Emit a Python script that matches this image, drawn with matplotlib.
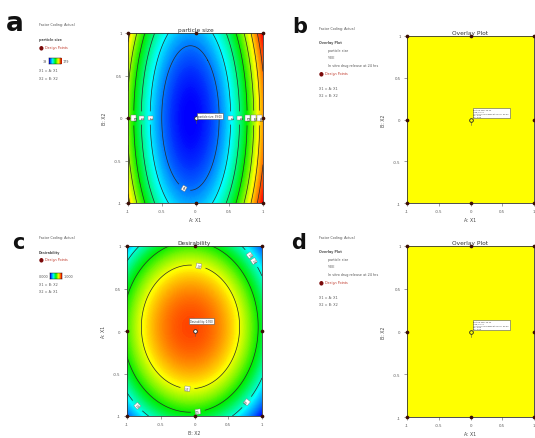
import numpy as np
import matplotlib
matplotlib.use("Agg")
import matplotlib.pyplot as plt
from matplotlib.colors import LinearSegmentedColormap

W, H = 535, 439
fig = plt.figure(figsize=(W / 100, H / 100), dpi=100)
fig.patch.set_facecolor("white")

# ---- data -------------------------------------------------------------
tick_values = [-1, -0.5, 0, 0.5, 1]
tick_labels = ["-1", "-0.5", "0", "0.5", "1"]

# 3x3 factorial design in coded units
design_x1 = [-1, -1, -1, 0, 0, 1, 1, 1]
design_x2 = [-1, 0, 1, -1, 1, -1, 0, 1]
center_point = [0, 0]

# particle size: quadratic model in coded X1, X2
ps_b0, ps_a, ps_aa, ps_bb = 39.0, 15.0, 100.0, 25.0
ps_min, ps_max = 39, 179
ps_n_div = 8

# desirability: quadratic model (x = B: X2, y = A: X1)
des_b0, des_x, des_y, des_xx, des_yy = 0.92, -0.05, 0.04, -0.42, -0.42
des_levels = [0.3, 0.5, 0.7]
des_min, des_max = 0.0, 1.0

ps_flag = "particle size: 39.00"
des_flag = "Desirability: 0.920"
overlay_flag_b = ["particle size: 39.00", "%EE: 92.10", "In vitro drug release at 24 hrs: 93.50",
                  "X1: 0.00", "X2: 0.00"]
overlay_flag_d = ["particle size: 39.00", "%EE: 92.10", "In vitro drug release at 24 hrs: 93.50",
                  "X1: 0.00", "X2: 0.00"]

# ---- styling ------------------------------------------------------------
de_cmap = LinearSegmentedColormap.from_list(
    "de", [(0.0, "#0000ff"), (0.27, "#00ffff"), (0.5, "#00ee00"),
           (0.72, "#ffff00"), (1.0, "#ff0000")])
overlay_yellow = "#ffff00"
point_color = "#3b0d05"
text_gray = "#555555"


def px(x, y):
    return x / W, 1 - y / H


def axes_rect(left, top, right, bottom):
    return [left / W, 1 - bottom / H, (right - left) / W, (bottom - top) / H]


def frame(ax, title, xlabel, ylabel):
    ax.set_xlim(-1, 1)
    ax.set_ylim(-1, 1)
    ax.set_xticks(tick_values)
    ax.set_yticks(tick_values)
    ax.set_xticklabels(tick_labels)
    ax.set_yticklabels(tick_labels)
    ax.tick_params(labelsize=2.8, length=2, width=0.4, pad=2.5, colors="#555555")
    ax.set_title(title, fontsize=4.2, pad=1.5, color="#333333")
    ax.set_xlabel(xlabel, fontsize=3.3, labelpad=3, color="#444444")
    ax.set_ylabel(ylabel, fontsize=3.3, labelpad=5, color="#444444")
    for s in ax.spines.values():
        s.set_linewidth(0.6)
        s.set_color("#333333")


def design_points(ax, center_face="white"):
    ax.scatter(design_x1, design_x2, s=7, color=point_color, zorder=6, clip_on=False,
               linewidths=0)
    ax.scatter([center_point[0]], [center_point[1]], s=7, facecolor=center_face,
               edgecolor="#222222", linewidths=0.6, zorder=7, clip_on=False)


def flag(ax, text, offset, fs=1.8, spacing=1.2):
    ax.plot([0, 0], [0, -0.06], color="#555555", lw=0.4, zorder=6)
    ax.annotate(text, xy=(0, 0), xytext=offset, textcoords="offset points",
                fontsize=fs, color="#333333", ha="left", va="bottom", zorder=8,
                linespacing=spacing,
                bbox=dict(boxstyle="square,pad=0.4", fc="white", ec="#555555", lw=0.4))


g = np.linspace(-1, 1, 301)
X, Y = np.meshgrid(g, g)

# ---- (a) particle size -----------------------------------------------------
ax_a = fig.add_axes(axes_rect(128, 34, 263, 204))
PS = ps_b0 + ps_a * X + ps_aa * X ** 2 + ps_bb * Y ** 2
ps_levels = np.linspace(ps_min, ps_max, ps_n_div + 1)[1:-1]
ax_a.contourf(X, Y, PS, levels=256, cmap=de_cmap, vmin=ps_min, vmax=ps_max)
cs = ax_a.contour(X, Y, PS, levels=ps_levels, colors="#2a2a2a", linewidths=0.5)
# label positions: where each outer level crosses X2 = 0, plus the innermost one below centre
manual = [(-0.15, -0.8)]
for lv in ps_levels[1:]:
    roots = np.roots([ps_aa, ps_a, ps_b0 - lv])
    for r in roots:
        if -1 <= r.real <= 1:
            manual.append((r.real, 0.0))
lbl = ax_a.clabel(cs, fmt="%.0f", fontsize=1.9, manual=manual, inline=True)
for t in lbl:
    t.set_bbox(dict(boxstyle="square,pad=0.2", fc="white", ec="#777777", lw=0.3))
frame(ax_a, "particle size", "A: X1", "B: X2")
design_points(ax_a)
flag(ax_a, ps_flag, (2, 0))

# ---- (b) overlay -----------------------------------------------------------
ax_b = fig.add_axes(axes_rect(407, 37, 534, 204))
ax_b.set_facecolor(overlay_yellow)
frame(ax_b, "Overlay Plot", "A: X1", "B: X2")
design_points(ax_b, center_face=overlay_yellow)
flag(ax_b, "\n".join(overlay_flag_b), (2, 2), fs=1.4, spacing=1.6)

# ---- (c) desirability -------------------------------------------------------
ax_c = fig.add_axes(axes_rect(127, 247, 262, 417))
D = des_b0 + des_x * X + des_y * Y + des_xx * X ** 2 + des_yy * Y ** 2
D = np.clip(D, des_min, des_max)
ax_c.contourf(X, Y, D, levels=256, cmap=de_cmap, vmin=des_min, vmax=des_max)
cs_c = ax_c.contour(X, Y, D, levels=des_levels, colors="#2a2a2a", linewidths=0.5)
lbl_c = ax_c.clabel(cs_c, fmt="%.1f", fontsize=1.9, inline=True,
                    manual=[(-0.1, -0.62), (0.1, 0.9), (0.05, -0.95), (0.75, 0.85),
                            (-0.9, -0.92), (0.9, -0.92), (0.93, 0.95)])
for t in lbl_c:
    t.set_bbox(dict(boxstyle="square,pad=0.2", fc="white", ec="#777777", lw=0.3))
frame(ax_c, "Desirability", "B: X2", "A: X1")
design_points(ax_c)
flag(ax_c, des_flag, (-3, 6))

# ---- (d) overlay -----------------------------------------------------------
ax_d = fig.add_axes(axes_rect(407, 247, 534, 418))
ax_d.set_facecolor(overlay_yellow)
frame(ax_d, "Overlay Plot", "A: X1", "B: X2")
design_points(ax_d, center_face=overlay_yellow)
flag(ax_d, "\n".join(overlay_flag_d), (2, 2), fs=1.4, spacing=1.6)

# ---- panel letters --------------------------------------------------------
for letter, (x, y), fs in [("a", (15, 24), 19), ("b", (300, 27), 15),
                           ("c", (18, 243), 15), ("d", (299, 243), 15)]:
    fig.text(*px(x, y), letter, fontsize=fs, fontweight="bold", ha="center",
             va="center", color="#111111")

# ---- side legends ------------------------------------------------------------
leg_fs = 2.4


def legend_text(x, y, s, bold=False, color=text_gray):
    fig.text(*px(x, y), s, fontsize=leg_fs, ha="left", va="center", color=color,
             fontweight="bold" if bold else "normal")


def legend_point(x, y):
    fig.text(*px(x, y), "\u25cf", fontsize=4, ha="center", va="center", color="#7a0a0a")
    legend_text(x + 4, y, "Design Points", color="#c0392b")


def legend_bar(x, y, lo, hi):
    cax = fig.add_axes(axes_rect(x, y - 3, x + 12, y + 3))
    cax.imshow(np.linspace(0, 1, 64)[None, :], cmap=de_cmap, aspect="auto")
    cax.set_xticks([])
    cax.set_yticks([])
    for s in cax.spines.values():
        s.set_linewidth(0.3)
    fig.text(*px(x - 2, y), lo, fontsize=leg_fs, ha="right", va="center", color=text_gray)
    fig.text(*px(x + 14, y), hi, fontsize=leg_fs, ha="left", va="center", color=text_gray)


# (a)
legend_text(39, 25, "Factor Coding: Actual")
legend_text(39, 40, "particle size", bold=True)
legend_point(41, 48)
legend_bar(49, 62, str(ps_min), str(ps_max))
legend_text(39, 71, "X1 = A: X1")
legend_text(39, 79, "X2 = B: X2")

# (b) and (d)
for y0 in (29, 238):
    legend_text(319, y0, "Factor Coding: Actual")
    legend_text(319, y0 + 14, "Overlay Plot", bold=True)
    legend_text(328, y0 + 22, "particle size")
    legend_text(328, y0 + 29, "%EE")
    legend_text(328, y0 + 37, "In vitro drug release at 24 hrs")
    legend_point(321, y0 + 45)
    legend_text(319, y0 + 60, "X1 = A: X1")
    legend_text(319, y0 + 67, "X2 = B: X2")

# (c)
legend_text(39, 238, "Factor Coding: Actual")
legend_text(39, 253, "Desirability", bold=True)
legend_point(41, 260)
legend_bar(50, 277, "0.000", "1.000")
legend_text(39, 285, "X1 = B: X2")
legend_text(39, 292, "X2 = A: X1")

fig.savefig("out.png", dpi=100)
